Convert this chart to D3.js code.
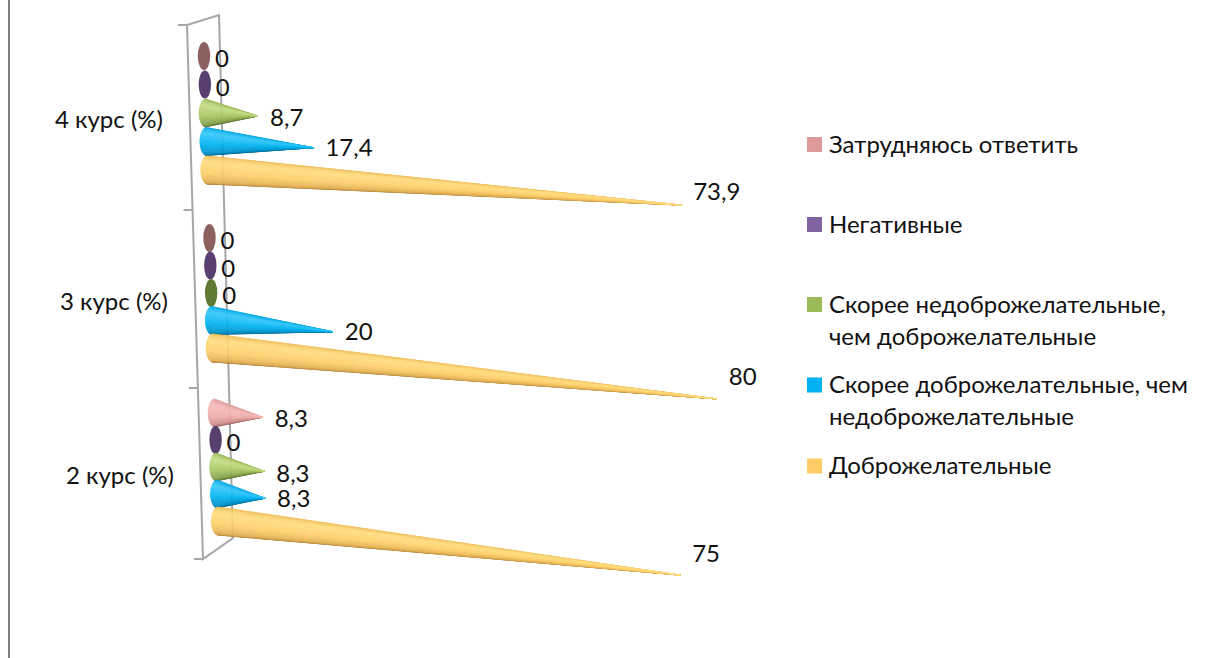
<!DOCTYPE html>
<html>
<head>
<meta charset="utf-8">
<script src="https://cdn.jsdelivr.net/npm/d3@7"></script>
<style>
html, body { margin: 0; background: #fff; }
svg { display: block; }
text { font-family: Lato, Carlito, "Open Sans", sans-serif; font-size: 24px; fill: #111; }
.wall { fill: none; stroke: #a6a6a6; stroke-width: 2px; }
</style>
</head>
<body>
<script>
// data
var categories = ["4 курс (%)", "3 курс (%)", "2 курс (%)"];
var seriesNames = ["Затрудняюсь ответить", "Негативные",
  "Скорее недоброжелательные, чем доброжелательные",
  "Скорее доброжелательные, чем недоброжелательные",
  "Доброжелательные"];
var hardToSay  = [0, 0, 8.3];
var negative   = [0, 0, 0];
var ratherNeg  = [8.7, 0, 8.3];
var ratherPos  = [17.4, 20, 8.3];
var friendly   = [73.9, 80, 75];
var seriesValues = [hardToSay, negative, ratherNeg, ratherPos, friendly];
var legendLines = [["Затрудняюсь ответить"], ["Негативные"],
  ["Скорее недоброжелательные,", "чем доброжелательные"],
  ["Скорее доброжелательные, чем", "недоброжелательные"],
  ["Доброжелательные"]];

var width = 1211, height = 658;

// styles and layout
var legendColor = ["#dd9a9a", "#8064a2", "#9bbb59", "#00b0f0", "#ffcc66"];
var zeroColor = ["#8d6060", "#57406f", "#5f7a32", "#0080b0", "#b08a40"];
var shades = [
  ["#d99a98", "#f6b9b8", "#f2b0ae", "#c98886", "#8d5a58"],
  ["#8064a2", "#9c84ba", "#8064a2", "#5f4a7a", "#3f3152"],
  ["#93b252", "#c5de86", "#a8c765", "#7d9a45", "#4a5f26"],
  ["#00a4e2", "#35c8fb", "#00b3f2", "#008cc2", "#00587a"],
  ["#efbc58", "#ffdc80", "#fed06c", "#dcaa50", "#9c7434"]
];
var shadeStops = [0, 0.3, 0.55, 0.85, 1];
var labelDy = [1, 0, 2, 0];

// excel's 3d perspective: each group has its own depth
var groupTop = d3.scaleOrdinal().domain(categories).range([56, 238, 413]);
var groupStep = d3.scaleOrdinal().domain(categories).range([28.5, 27.5, 27]);
var stretch = d3.scaleOrdinal().domain(categories).range([1.02, 1, 0.98]);
var tilt = d3.scaleOrdinal().domain(categories).range([0.058, 0.093, 0.088]);
var tiltFriendly = d3.scaleOrdinal().domain(categories).range([0.074, 0.101, 0.117]);
var friendlyLabelDy = d3.scaleOrdinal().domain(categories).range([-13, -22, -21]);

var xLen = d3.scalePow().exponent(1.03).domain([0, 80]).range([0, 504]);
var baseX = d3.scaleLinear().domain([56, 521]).range([204, 218]);
var wallX = d3.scaleLinear().domain([25, 559]).range([187, 203]);

var svg = d3.select("body").append("svg")
    .attr("width", width)
    .attr("height", height);

// outer frame, only the left edge is in view
svg.append("line")
    .attr("x1", 9).attr("x2", 9)
    .attr("y1", 0).attr("y2", height)
    .attr("stroke", "#7f7f7f")
    .attr("stroke-width", 2);

// back wall
svg.append("path")
    .attr("class", "wall")
    .attr("d", "M" + wallX(25) + ",25L219,15L233,538L" + wallX(559) + ",559Z");

// ticks between groups
var tickYs = [25, 210, 388, 559];
svg.selectAll(".tick")
    .data(tickYs)
    .enter().append("line")
    .attr("class", "wall tick")
    .attr("x1", function(d) { return wallX(d) - 9; })
    .attr("x2", function(d) { return wallX(d); })
    .attr("y1", function(d) { return d; })
    .attr("y2", function(d) { return d; });

var labelX = d3.scaleOrdinal().domain(categories).range([55, 60, 66]);
var labelY = d3.scaleOrdinal().domain(categories).range([120, 302, 476]);
svg.selectAll(".cat")
    .data(categories)
    .enter().append("text")
    .attr("class", "cat")
    .attr("x", function(d) { return labelX(d); })
    .attr("y", function(d) { return labelY(d); })
    .attr("dy", "0.35em")
    .text(function(d) { return d; });

// draws a cone as thin slices that all meet at the tip, so the shading converges.
// darkest slices first so the tip stays pale
function cone(g, bx, by, tx, ty, rx, ry, s) {
  var ramp = d3.scaleLinear().domain(shadeStops).range(shades[s]);
  var n = 48;
  var order = d3.range(n).sort(function(a, b) {
    return Math.abs(b / n - 0.35) - Math.abs(a / n - 0.35);
  });
  order.forEach(function(i) {
    var a0 = Math.PI * i / n, a1 = Math.PI * (i + 1) / n;
    var x0 = bx - rx * Math.sin(a0), y0 = by - ry * Math.cos(a0);
    var x1 = bx - rx * Math.sin(a1), y1 = by - ry * Math.cos(a1);
    var c = ramp((i + 0.5) / n);
    g.append("path")
        .attr("d", "M" + x0 + "," + y0 + "L" + x1 + "," + y1 + "L" + tx + "," + ty + "Z")
        .attr("fill", c)
        .attr("stroke", c)
        .attr("stroke-width", 0.3);
  });
}

categories.forEach(function(cat, c) {
  seriesValues.forEach(function(values, s) {
    var v = values[c];
    var by = groupTop(cat) + s * groupStep(cat);
    var bx = baseX(by);
    var g = svg.append("g");
    var tx = bx, ty = by;
    if (v === 0) {
      g.append("ellipse")
          .attr("cx", bx).attr("cy", by)
          .attr("rx", 6.2).attr("ry", 14)
          .attr("fill", zeroColor[s]);
    } else {
      var len = xLen(v) * stretch(cat);
      tx = bx + len;
      ty = by + len * (s === 4 ? tiltFriendly(cat) : tilt(cat));
      cone(g, bx, by, tx, ty, 6.8, 14, s);
    }
    svg.append("text")
        .attr("class", "val")
        .attr("x", v === 0 ? bx + 11 : tx + 12)
        .attr("y", v === 0 ? by + 3 : (s === 4 ? ty + friendlyLabelDy(cat) : ty + labelDy[s]))
        .attr("dy", "0.35em")
        .text(String(v).replace(".", ","));
  });
});

// legend
var legendY = d3.scaleOrdinal().domain(seriesNames).range([144.5, 224.5, 304.5, 385, 466]);
var legend = svg.selectAll(".legend")
    .data(seriesNames)
    .enter().append("g")
    .attr("class", "legend")
    .attr("transform", function(d) { return "translate(806," + legendY(d) + ")"; });
legend.append("rect")
    .attr("x", 1).attr("y", -7.5)
    .attr("width", 15).attr("height", 15)
    .attr("fill", function(d, i) { return legendColor[i]; });
legend.append("text")
    .attr("y", 0)
    .each(function(d, i) {
      var t = d3.select(this);
      legendLines[i].forEach(function(line, k) {
        t.append("tspan")
            .attr("x", 23)
            .attr("y", k * 32 + 1)
            .attr("dy", "0.3em")
            .text(line);
      });
    });
</script>
</body>
</html>
